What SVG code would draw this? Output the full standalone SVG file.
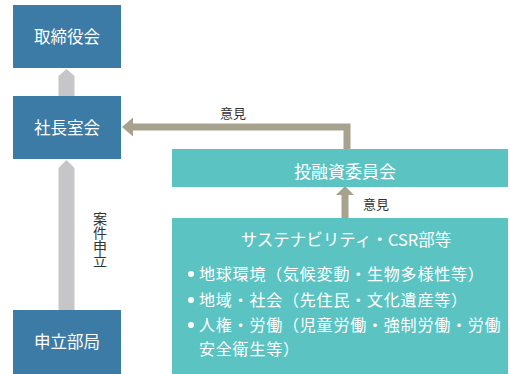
<svg xmlns="http://www.w3.org/2000/svg" width="510" height="374" viewBox="0 0 510 374">
<style>
.blue{fill:#3d7ba7}
.teal{fill:#5bc4c3}
.gray{fill:#c6c6c8}
.brown{fill:#a7a28d}
.wt{fill:#ffffff;font-family:"Noto Sans CJK JP","Noto Sans",sans-serif}
.lb{fill:#333333;font-family:"Noto Sans CJK JP","Noto Sans",sans-serif;font-size:13px}
.li{font-size:16px;letter-spacing:0.8px}
</style>
<rect width="510" height="374" fill="#ffffff"/>
<g id="connectors">
<polygon class="gray" points="58.5,76 66.5,69 74.5,76 74.5,96 58.5,96"/>
<polygon class="gray" points="58.5,168 66.5,160 74.5,168 74.5,311 58.5,311"/>
<polyline points="132,127 347,127 347,150" fill="none" stroke="#a7a28d" stroke-width="7"/>
<polygon class="brown" points="122,127 133,117.5 133,136.5"/>
<rect class="brown" x="341.5" y="194" width="7" height="25"/>
<polygon class="brown" points="345,186 354,195 336,195"/>
<text class="lb" x="233" y="118" text-anchor="middle">意見</text>
<text class="lb" x="376" y="209" text-anchor="middle">意見</text>
<text class="lb" x="100" y="212" style="writing-mode:vertical-rl;font-size:14px">案件申立</text>
</g>
<g id="torishimariyakukai">
<rect class="blue" x="13" y="5" width="108" height="63"/>
<text class="wt" x="67" y="43" font-size="16.5" text-anchor="middle">取締役会</text>
</g>
<g id="shachoshitsukai">
<rect class="blue" x="13" y="96" width="108" height="63"/>
<text class="wt" x="67" y="134" font-size="16.5" text-anchor="middle">社長室会</text>
</g>
<g id="moushitatebukyoku">
<rect class="blue" x="13" y="310" width="108" height="64"/>
<text class="wt" x="67" y="348" font-size="16.5" text-anchor="middle">申立部局</text>
</g>
<g id="touyushiiinkai">
<rect class="teal" x="172" y="149" width="336" height="38"/>
<text class="wt" x="345" y="178" font-size="17" text-anchor="middle">投融資委員会</text>
</g>
<g id="sustainability">
<rect class="teal" x="172" y="218" width="336" height="156"/>
<text class="wt" x="346" y="246" font-size="16.5" text-anchor="middle">サステナビリティ・CSR部等</text>
<g class="wt">
<circle cx="191" cy="274" r="3" fill="#ffffff"/>
<text class="li" x="199" y="280">地球環境（気候変動・生物多様性等）</text>
<circle cx="191" cy="300" r="3" fill="#ffffff"/>
<text class="li" x="199" y="306">地域・社会（先住民・文化遺産等）</text>
<circle cx="191" cy="325" r="3" fill="#ffffff"/>
<text class="li" x="199" y="331">人権・労働（児童労働・強制労働・労働</text>
<text class="li" x="199" y="355">安全衛生等）</text>
</g>
</g>
</svg>
